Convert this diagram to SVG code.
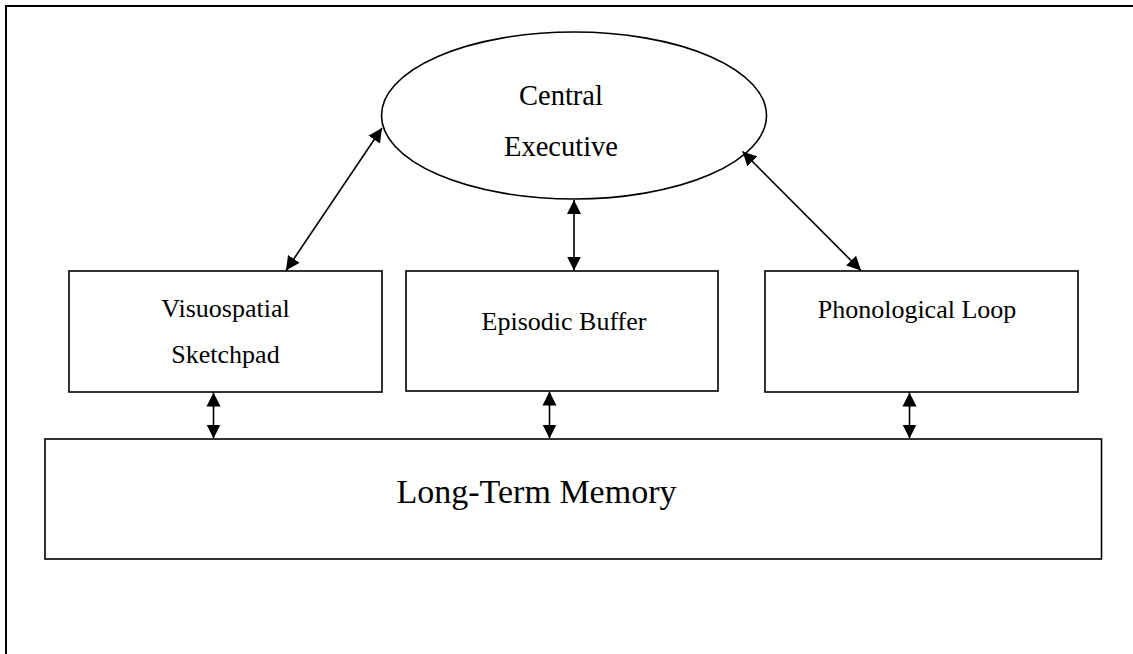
<svg xmlns="http://www.w3.org/2000/svg" width="1133" height="654" viewBox="0 0 1133 654">
<style>
.box{fill:#fff;stroke:#000;stroke-width:1.6}
.lbl{font-family:"Liberation Serif","Times New Roman",serif;fill:#000;text-anchor:middle}
.conn{stroke:#000;stroke-width:1.6;fill:none;marker-start:url(#ah);marker-end:url(#ah)}
</style>
<defs>
<marker id="ah" markerUnits="userSpaceOnUse" markerWidth="15" markerHeight="15" refX="14" refY="7" orient="auto-start-reverse" viewBox="0 0 15 14">
<path d="M0,0 L14,7 L0,14 z" fill="#000"/>
</marker>
</defs>
<rect width="1133" height="654" fill="#fff"/>
<rect x="6" y="6" width="1160" height="680" fill="none" stroke="#000" stroke-width="2"/>
<g id="central-executive">
<ellipse class="box" cx="574" cy="115.5" rx="192.5" ry="83.5"/>
<text class="lbl" x="561" y="105" font-size="28.5">Central</text>
<text class="lbl" x="561" y="156" font-size="28.5">Executive</text>
</g>
<g id="visuospatial-sketchpad">
<rect class="box" x="69" y="271" width="313" height="121"/>
<text class="lbl" x="225.5" y="316.5" font-size="26">Visuospatial</text>
<text class="lbl" x="225.5" y="362.5" font-size="26">Sketchpad</text>
</g>
<g id="episodic-buffer">
<rect class="box" x="406" y="271" width="312" height="120"/>
<text class="lbl" x="564" y="330" font-size="26">Episodic Buffer</text>
</g>
<g id="phonological-loop">
<rect class="box" x="765" y="271" width="313" height="121"/>
<text class="lbl" x="917" y="318" font-size="26">Phonological Loop</text>
</g>
<g id="long-term-memory">
<rect class="box" x="45" y="439" width="1056.5" height="120"/>
<text class="lbl" x="536.5" y="503" font-size="34">Long-Term Memory</text>
</g>
<g id="connectors">
<line class="conn" x1="286" y1="270.5" x2="382" y2="128"/>
<line class="conn" x1="574" y1="200" x2="574" y2="270.5"/>
<line class="conn" x1="742.5" y1="151.5" x2="861" y2="270.5"/>
<line class="conn" x1="213.5" y1="392.5" x2="213.5" y2="438.5"/>
<line class="conn" x1="549.5" y1="391.5" x2="549.5" y2="438.5"/>
<line class="conn" x1="909.5" y1="392.5" x2="909.5" y2="438.5"/>
</g>
</svg>
